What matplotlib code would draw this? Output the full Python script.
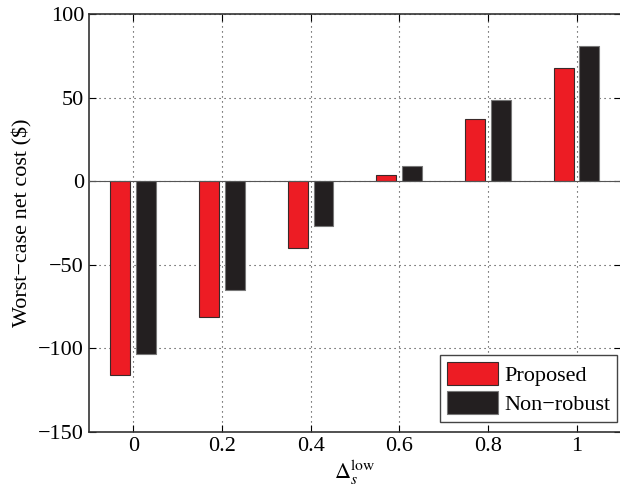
import numpy as np
import matplotlib
matplotlib.use("Agg")
import matplotlib.pyplot as plt
from matplotlib import rc

# Times-like look, like the MATLAB export
rc('font', family='Liberation Serif', size=16)
rc('mathtext', fontset='stix')

# data
delta_low = [0, 0.2, 0.4, 0.6, 0.8, 1.0]
proposed = [-116, -81, -40, 3.7, 37, 67.5]
non_robust = [-103.5, -65, -27, 9, 48.5, 81]
xtick_labels = ['0', '0.2', '0.4', '0.6', '0.8', '1']

x = np.array(delta_low)
w = 0.045
off = 0.029

fig = plt.figure(figsize=(6.2, 4.91), dpi=100)
ax = fig.add_axes([0.1435, 0.1202, 0.858, 0.8513])

ax.bar(x - off, proposed, w, color='#ED1C24', edgecolor='#3a2a2a', lw=0.8,
       label='Proposed', zorder=3)
ax.bar(x + off, non_robust, w, color='#231F20', edgecolor='#777777', lw=0.8,
       label='Non\u2212robust', zorder=3)

ax.axhline(0, color='#555555', lw=0.8, zorder=4)

ax.set_xlim(-0.1, 1.1)
ax.set_ylim(-150, 100)
ax.set_xticks(x)
ax.set_xticklabels(xtick_labels)
ax.set_yticks([-150, -100, -50, 0, 50, 100])
ax.set_yticklabels(['\u2212150', '\u2212100', '\u221250', '0', '50', '100'])
ax.tick_params(direction='in', top=True, right=True, length=5, width=0.8)
ax.grid(True, linestyle=(0, (1, 3.5)), color='#333333', lw=0.8, zorder=0)
for s in ax.spines.values():
    s.set_linewidth(1.2)
    s.set_color('#333333')

ax.set_ylabel('Worst\u2212case net cost ($)', labelpad=4)
ax.set_xlabel(r'$\Delta_s^{\mathrm{low}}$', labelpad=2)

leg = ax.legend(loc='lower right', bbox_to_anchor=(0.9935, 0.024), fancybox=False,
                edgecolor='#444444', framealpha=1, handlelength=2.3,
                handleheight=1.2, borderpad=0.3, labelspacing=0.25,
                handletextpad=0.3, borderaxespad=0)
leg.get_frame().set_linewidth(1.0)

fig.savefig('out.png', dpi=100)
